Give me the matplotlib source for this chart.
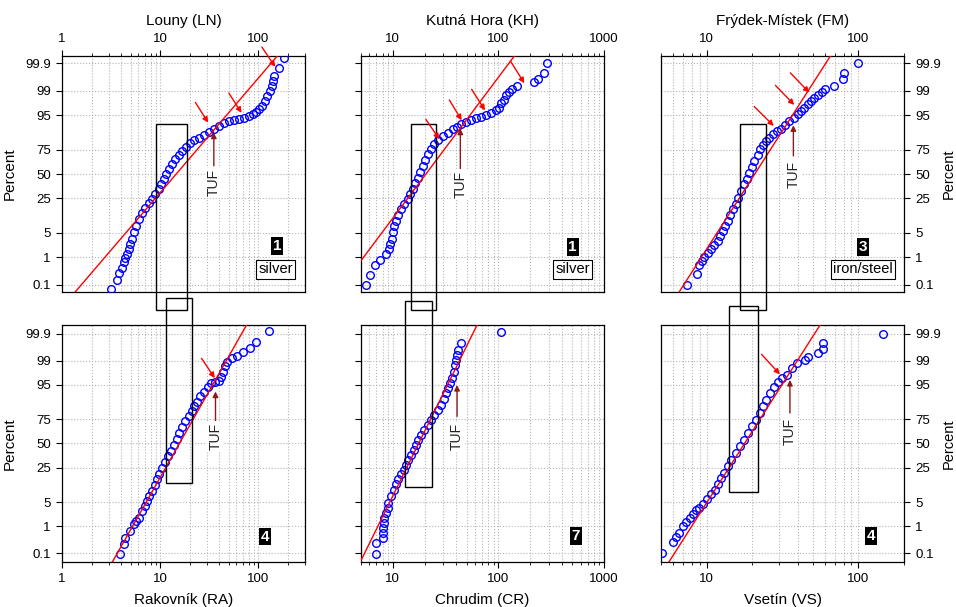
"""
Log-probability plots of coin-weight / finds data for six districts (LN, KH, FM, RA, CR, VS).
Blue circles = observations, red line = lognormal fit, arrows mark breaks and the TUF threshold.
"""

from statistics import NormalDist

import numpy as np
import matplotlib
matplotlib.use("Agg")
import matplotlib.pyplot as plt
from matplotlib.patches import Rectangle
from matplotlib.ticker import LogLocator, NullFormatter, NullLocator

plt.rcParams["font.family"] = ["Liberation Sans", "DejaVu Sans"]

# ─── data (cumulative percent, value) ─────────────────────────────────────────

ln_pct = [0.066, 0.16, 0.30, 0.45, 0.68, 0.94, 1.27, 1.81, 2.52, 3.59, 5.2, 7.2, 10.4,
          13.8, 17.5, 20.9, 24.2, 28.8, 33.6, 38.8, 44.2, 49.8, 55.3, 60.7, 66.0, 70.3,
          74.0, 77.5, 80.4, 82.6, 84.5, 86.4, 88.0, 89.6, 91.0, 92.1, 93.0, 93.5, 93.9,
          94.2, 94.7, 95.2, 95.8, 96.4, 97.1, 97.9, 98.5, 98.97, 99.29, 99.52, 99.69,
          99.84, 99.94]
ln_val = [3.19, 3.64, 3.85, 4.09, 4.26, 4.43, 4.60, 4.79, 4.98, 5.18, 5.39, 5.69, 6.15,
          6.55, 7.08, 7.66, 8.29, 8.97, 9.69, 10.33, 10.9, 11.5, 12.3, 13.2, 14.3, 15.5,
          16.8, 18.4, 20.4, 22.4, 24.8, 27.9, 31.4, 35.3, 39.7, 44.7, 50.2, 56.5, 63.5,
          71.4, 80.3, 88.1, 95.2, 103, 110, 117, 123.7, 130.7, 139, 142, 144.5, 162.5, 183]

kh_pct = [0.097, 0.25, 0.55, 0.84, 1.27, 1.81, 2.52, 3.6, 5.2, 7.2, 9.6, 12.5, 16.3,
          20.0, 24.2, 28.7, 33.6, 39.9, 46.1, 52.4, 58.9, 65.3, 70.9, 75.5, 79.7, 82.9,
          85.6, 87.6, 89.4, 90.7, 91.7, 92.7, 93.4, 94.0, 94.5, 94.9, 95.5, 96.2, 96.8,
          97.6, 98.1, 98.6, 98.9, 99.13, 99.29, 99.49, 99.59, 99.75, 99.9]
kh_val = [5.58, 6.12, 6.78, 7.62, 8.63, 9.14, 9.48, 9.75, 9.98, 10.35, 10.7, 11.3, 12.0,
          12.9, 13.8, 14.7, 15.4, 16.2, 17.2, 18.2, 19.2, 20.2, 21.4, 23.0, 24.7, 27.0,
          29.6, 33.1, 36.9, 40.6, 44.3, 49.3, 55, 61.4, 68.4, 76.4, 85, 94.9, 102,
          107, 112, 118, 125, 136, 150, 216, 239, 268, 289]

fm_pct = [0.10, 0.26, 0.55, 0.78, 1.0, 1.37, 1.81, 2.36, 3.1, 4.2, 5.6, 7.4, 9.6, 12.5,
          16.3, 20.5, 25.6, 31.9, 38.8, 44.9, 51.6, 58.2, 64.2, 70.0, 75.5, 78.9, 82.2,
          84.5, 86.6, 88.3, 89.7, 91.4, 93.0, 94.2, 95.2, 96.1, 96.8, 97.4, 97.9, 98.3,
          98.6, 98.9, 99.09, 99.29, 99.61, 99.75, 99.9]
fm_val = [7.42, 8.63, 8.95, 9.27, 9.66, 10.2, 10.7, 11.2, 11.8, 12.3, 12.8, 13.2, 13.8,
          14.3, 14.9, 15.5, 16.2, 16.9, 17.7, 18.5, 19.1, 19.8, 20.6, 21.7, 22.6, 23.5,
          24.6, 25.9, 27.2, 29.1, 30.9, 32.9, 35.1, 37.5, 39.8, 41.9, 44.1, 46.4, 48.8,
          51.3, 54, 57.3, 60.3, 69.5, 78.9, 81, 99]

ra_pct = [0.094, 0.23, 0.41, 0.7, 1.15, 1.46, 1.85, 2.88, 3.93, 5.3, 6.95, 9.0, 12.1,
          15.6, 19.7, 24.7, 30.3, 36.0, 42.1, 48.8, 55.4, 61.6, 67.5, 73.3, 77.7, 81.6,
          85.1, 88.1, 90.7, 92.8, 94.3, 95.5, 95.9, 96.1, 97.0, 97.8, 98.5, 98.9, 99.18,
          99.33, 99.48, 99.65, 99.79, 99.92]
ra_val = [3.88, 4.26, 4.43, 4.98, 5.39, 5.69, 6.06, 6.55, 6.97, 7.37, 7.78, 8.29, 8.82,
          9.32, 9.85, 10.5, 11.2, 12.1, 12.8, 13.8, 14.8, 15.7, 16.9, 18.1, 19.5, 20.9,
          22.2, 23.9, 25.8, 27.9, 30.6, 33.4, 36.7, 39.7, 41.6, 43.6, 45.7, 48.3, 54.3,
          61.1, 69.8, 81.6, 94, 128]

cr_pct = [0.099, 0.25, 0.41, 0.61, 0.9, 1.3, 1.85, 2.58, 3.55, 4.8, 6.95, 9.5, 12.5,
          15.6, 19.2, 23.2, 27.7, 32.6, 37.8, 43.2, 48.8, 54.3, 59.8, 65.1, 70.2, 74.8,
          79.1, 82.9, 86.2, 89.6, 92.2, 94.0, 95.5, 96.8, 97.8, 98.6, 99.06, 99.36, 99.57,
          99.76, 99.91]
cr_val = [6.93, 6.93, 8.02, 8.02, 8.02, 8.2, 8.2, 8.62, 8.93, 9.08, 9.61, 10.2, 10.7,
          11.3, 12.0, 12.7, 13.3, 14.0, 14.9, 15.8, 16.6, 17.5, 18.5, 19.9, 21.4, 23.0,
          24.7, 26.6, 28.6, 30.3, 31.9, 33.6, 35.1, 36.4, 37.8, 38.8, 39.7, 40.6, 41.8,
          44.3, 107]

vs_pct = [0.108, 0.28, 0.44, 0.61, 1.02, 1.4, 1.85, 2.42, 3.0, 3.55, 4.35, 5.8, 7.6,
          9.8, 12.5, 16.3, 20.5, 26.2, 32.6, 39.5, 46.9, 54.3, 61.6, 68.5, 74.8, 80.4,
          85.1, 89.0, 92.2, 94.3, 95.9, 96.7, 97.3, 98.3, 98.8, 99.06, 99.27, 99.44,
          99.61, 99.76, 99.9]
vs_val = [5.05, 5.97, 6.28, 6.61, 6.96, 7.32, 7.71, 8.1, 8.53, 8.97, 9.44, 10.1, 10.7,
          11.3, 11.9, 12.5, 13.1, 13.8, 14.5, 15.5, 16.5, 17.6, 18.8, 19.9, 21.3, 22.4,
          23.6, 24.8, 26.1, 27.9, 29.6, 31.5, 33.7, 36.3, 39.2, 44.5, 46.4, 54, 58.9,
          58.9, 144.5]

# lognormal fit lines: value at 0.01 % and 99.99 %
FIT_PCT = [0.01, 99.99]
ln_fit = [1.0, 213]
kh_fit = [2.33, 182]
fm_fit = [5.67, 76]
ra_fit = [2.71, 91.4]
cr_fit = [4.24, 72.8]
vs_fit = [4.93, 64]

Y_TICKS = [0.1, 1, 5, 25, 50, 75, 95, 99, 99.9]
Y_LABELS = ["0.1", "1", "5", "25", "50", "75", "95", "99", "99.9"]


# ─── probability (probit) axis ────────────────────────────────────────────────

_nd = NormalDist()
_ppf = np.vectorize(_nd.inv_cdf, otypes=[float])
_cdf = np.vectorize(_nd.cdf, otypes=[float])


def to_z(p):
    p = np.clip(np.asarray(p, dtype=float) / 100.0, 1e-12, 1 - 1e-12)
    return _ppf(p)


def to_pct(z):
    return _cdf(np.asarray(z, dtype=float)) * 100.0


# ─── panel layout (pixel box of each axes: left, top, right, bottom) ──────────

W, H = 956, 607
COLS = [(62, 305), (361, 604), (661, 904)]
ROWS = [(56, 292), (325, 562)]
YLIM = [(0.05, 99.95), (0.0434, 99.9566)]

PANELS = [
    dict(name="Louny (LN)", pct=ln_pct, val=ln_val, fit=ln_fit, row=0, col=0,
         xlim=(1, 300), xticks=[1, 10, 100], rank="1", metal="silver",
         rank_xy=(0.885, 0.195), metal_xy=(0.878, 0.096),
         arrows=[(22.9, 97.7, 30.9, 92.4), (50.2, 98.8, 67.6, 95.6), (109, 99.98, 149, 99.86)],
         tuf=(35.3, 87.6, 59, 40.5), box=(9.1, 18.9, 0.0075, 91.9)),
    dict(name="Kutná Hora (KH)", pct=kh_pct, val=kh_val, fit=kh_fit, row=0, col=1,
         xlim=(5, 1000), xticks=[10, 100, 1000], rank="1", metal="silver",
         rank_xy=(0.871, 0.192), metal_xy=(0.871, 0.096),
         arrows=[(20.6, 93.6, 27.6, 83.4), (34.3, 98.05, 44.9, 93.3),
                 (55.8, 99.09, 74.7, 96.2), (129.7, 99.92, 176, 99.43)],
         tuf=(43.6, 89.7, 55.3, 38.8), box=(14.8, 25.5, 0.0075, 91.9)),
    dict(name="Frýdek-Místek (FM)", pct=fm_pct, val=fm_val, fit=fm_fit, row=0, col=2,
         xlim=(5, 200), xticks=[10, 100], rank="3", metal="iron/steel",
         rank_xy=(0.830, 0.192), metal_xy=(0.830, 0.096),
         arrows=[(20.6, 97.0, 27.7, 91.0), (28.4, 99.33, 37.8, 97.3), (35.6, 99.76, 47.5, 98.84)],
         tuf=(37.3, 91.3, 69.3, 49.8), box=(16.6, 24.8, 0.0075, 91.9)),
    dict(name="Rakovník (RA)", pct=ra_pct, val=ra_val, fit=ra_fit, row=1, col=0,
         xlim=(1, 300), xticks=[1, 10, 100], rank="4", metal=None,
         rank_xy=(0.837, 0.107), metal_xy=None,
         arrows=[(26.4, 99.17, 36.1, 96.7)],
         tuf=(36.7, 92.8, 73.3, 58), box=(11.5, 21.2, 13.05, 99.9978)),
    dict(name="Chrudim (CR)", pct=cr_pct, val=cr_val, fit=cr_fit, row=1, col=1,
         xlim=(5, 1000), xticks=[10, 100, 1000], rank="7", metal=None,
         rank_xy=(0.885, 0.111), metal_xy=None,
         arrows=[],
         tuf=(40.6, 95.0, 77.7, 58), box=(13.0, 23.4, 11.0, 99.9968)),
    dict(name="Vsetín (VS)", pct=vs_pct, val=vs_val, fit=vs_fit, row=1, col=2,
         xlim=(5, 200), xticks=[10, 100], rank="4", metal=None,
         rank_xy=(0.864, 0.111), metal_xy=None,
         arrows=[(23.0, 99.39, 30.4, 97.4)],
         tuf=(35.4, 96.3, 80.4, 63.4), box=(14.0, 21.9, 8.6, 99.9944)),
]

GRID = dict(ls=":", color="#b4b4b4", lw=0.8)

fig = plt.figure(figsize=(W / 100, H / 100), dpi=100)

for p in PANELS:
    l, r = COLS[p["col"]]
    t, b = ROWS[p["row"]]
    ax = fig.add_axes([l / W, 1 - b / H, (r - l) / W, (b - t) / H])

    ax.set_xscale("log")
    ax.set_yscale("function", functions=(to_z, to_pct))
    ax.set_xlim(*p["xlim"])
    ax.set_ylim(*YLIM[p["row"]])

    ax.set_yticks(Y_TICKS, Y_LABELS)
    ax.yaxis.set_minor_locator(NullLocator())
    ax.set_xticks(p["xticks"], [str(v) for v in p["xticks"]])
    ax.xaxis.set_minor_locator(LogLocator(base=10, subs=np.arange(2, 10)))
    ax.xaxis.set_minor_formatter(NullFormatter())
    ax.grid(True, which="both", axis="x", **GRID)
    ax.grid(True, which="major", axis="y", **GRID)
    ax.set_axisbelow(True)

    ax.tick_params(which="major", direction="out", length=4.5, width=0.8, labelsize=9.5)
    ax.tick_params(which="minor", direction="out", length=2.5, width=0.6)
    for s in ax.spines.values():
        s.set_linewidth(0.9)

    if p["row"] == 0:
        ax.xaxis.tick_top()
        ax.xaxis.set_label_position("top")
    ax.set_xlabel(p["name"], fontsize=11, labelpad=6)

    if p["col"] == 0:
        ax.set_ylabel("Percent", fontsize=11, labelpad=6)
    elif p["col"] == 2:
        ax.yaxis.tick_right()
        ax.yaxis.set_label_position("right")
        ax.set_ylabel("Percent", fontsize=10.5, labelpad=1)
    else:
        ax.tick_params(axis="y", labelleft=False)

    # observations + fit
    ax.plot(p["val"], p["pct"], ls="none", marker="o", ms=5.5, mfc="none",
            mec="#0000ff", mew=1.0, zorder=3)
    ax.plot(p["fit"], FIT_PCT, color="red", lw=1.0, zorder=4)

    # break arrows
    for x0, p0, x1, p1 in p["arrows"]:
        ax.annotate("", xy=(x1, p1), xytext=(x0, p0), annotation_clip=False,
                    arrowprops=dict(arrowstyle="-|>", color="red", lw=1.0,
                                    mutation_scale=8, shrinkA=0, shrinkB=0), zorder=6)

    # TUF marker
    tx, head, tail, tp = p["tuf"]
    ax.annotate("", xy=(tx, head), xytext=(tx, tail),
                arrowprops=dict(arrowstyle="-|>", color="#8b1a1a", lw=1.0,
                                mutation_scale=8, shrinkA=0, shrinkB=0), zorder=6)
    ax.text(tx, tp, "TUF", rotation=90, ha="center", va="center", fontsize=10,
            color="#222222", zorder=6,
            bbox=dict(boxstyle="square,pad=0.1", fc="white", ec="none"))

    # range box
    x0, x1, p0, p1 = p["box"]
    ax.add_patch(Rectangle((x0, p0), x1 - x0, p1 - p0, fill=False, ec="black",
                           lw=1.0, clip_on=False, zorder=5))

    # rank / metal labels
    ax.text(*p["rank_xy"], p["rank"], transform=ax.transAxes, ha="center", va="center",
            color="white", fontsize=11, fontweight="bold", zorder=7,
            bbox=dict(boxstyle="square,pad=0.12", fc="black", ec="none"))
    if p["metal"]:
        ax.text(*p["metal_xy"], p["metal"], transform=ax.transAxes, ha="center",
                va="center", fontsize=10.5, zorder=7,
                bbox=dict(boxstyle="square,pad=0.15", fc="white", ec="black", lw=0.8))

fig.savefig("out.png", dpi=100)
plt.close(fig)
